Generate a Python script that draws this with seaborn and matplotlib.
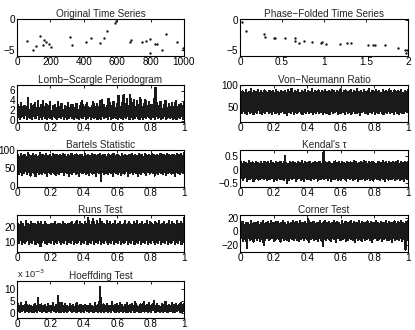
import numpy as np
import matplotlib
matplotlib.use("Agg")
import matplotlib.pyplot as plt
import seaborn as sns

sns.set_theme(style="white")
plt.rcParams['font.family'] = ['Liberation Sans', 'DejaVu Sans']

# ---------------- data ----------------
orig_t = [60, 93, 115, 139, 153, 161, 173, 193, 203, 320, 330, 413, 443, 499, 519, 539,
          588, 594, 676, 682, 751, 775, 795, 799, 829, 837, 869, 891, 956, 994, 998]
orig_y = [-3.47, -5.0, -4.26, -2.68, -4.2, -3.42, -3.68, -3.95, -4.47, -2.9, -4.2, -3.74,
          -3.0, -3.84, -2.95, -1.9, -0.53, -0.3, -3.63, -3.42, -3.74, -3.53, -3.16, -5.47,
          -3.95, -4.05, -5.0, -2.37, -3.68, -4.63, -5.0]

phase = [0.02, 0.07, 0.28, 0.30, 0.40, 0.42, 0.53, 0.65, 0.65, 0.70, 0.76, 0.86, 0.96, 0.98,
         1.02, 1.19, 1.27, 1.32, 1.52, 1.58, 1.61, 1.73, 1.88, 1.96, 1.99, 1.98]
phase_y = [-0.27, -1.8, -2.34, -2.8, -3.0, -2.9, -2.9, -3.0, -3.5, -3.8, -3.5, -3.6, -3.75,
           -3.6, -4.0, -4.0, -3.8, -3.8, -4.2, -4.1, -4.2, -4.2, -4.6, -5.0, -5.0, -5.4]

lomb = [0.3, 3.1, 0.6, 2.8, 0.2, 3.6, 0.9, 2.4, 0.4, 3.0, 1.1, 2.7, 0.3, 4.6, 0.7, 2.2, 0.5, 3.3, 0.2, 2.9,
        0.8, 3.5, 0.4, 2.6, 1.0, 3.9, 0.3, 2.5, 0.6, 3.2, 0.2, 4.0, 0.9, 2.8, 0.5, 3.4, 0.3, 2.3, 0.7, 3.7,
        0.4, 1.9, 0.2, 2.9, 1.0, 3.1, 0.5, 2.6, 0.3, 3.8, 0.6, 2.7, 0.4, 3.3, 0.8, 2.1, 0.2, 3.0, 0.7, 2.8,
        0.3, 3.6, 0.5, 2.4, 0.9, 3.2, 0.4, 3.1, 0.2, 2.5, 0.7, 3.4, 0.5, 2.2, 0.3, 2.9, 0.6, 3.9, 0.4, 3.2,
        0.8, 2.6, 0.2, 3.5, 0.5, 2.8, 0.9, 2.2, 0.3, 3.0, 0.6, 3.7, 0.4, 2.5, 0.7, 3.3, 0.2, 2.7, 0.5, 3.9,
        0.3, 4.1, 0.8, 3.2, 0.4, 2.6, 0.6, 3.0, 0.3, 4.3, 0.9, 3.6, 0.2, 2.9, 0.5, 3.8, 0.7, 2.6, 0.4, 3.4,
        0.3, 5.0, 0.6, 2.8, 0.5, 3.5, 0.2, 5.1, 0.7, 3.3, 0.4, 4.4, 0.8, 2.9, 0.3, 5.2, 0.6, 3.6, 0.2, 4.1,
        0.5, 2.7, 0.9, 3.9, 0.4, 3.1, 0.2, 4.5, 0.7, 2.8, 0.3, 3.4, 0.6, 4.2, 0.4, 2.5, 0.8, 3.7, 0.5, 3.2,
        0.3, 3.0, 0.6, 4.3, 0.2, 6.6, 0.9, 3.5, 0.4, 2.9, 0.7, 3.8, 0.3, 2.4, 0.5, 3.2, 0.8, 4.0, 0.2, 2.6,
        0.6, 3.3, 0.4, 2.8, 0.7, 3.6, 0.3, 2.5, 0.5, 3.9, 0.2, 2.7, 0.6, 3.1, 0.4, 3.4, 0.8, 2.9, 0.3, 3.6]

von_neumann = [40, 84, 36, 86, 42, 81, 38, 88, 35, 83, 41, 85, 37, 90, 39, 82, 34, 87, 40, 84,
               36, 89, 43, 83, 38, 86, 35, 81, 40, 88, 37, 85, 41, 83, 36, 87, 39, 84, 34, 86,
               42, 82, 37, 89, 40, 85, 35, 83, 39, 87, 41, 84, 36, 86, 38, 81, 33, 88, 40, 85,
               37, 91, 42, 83, 35, 86, 39, 84, 36, 88, 41, 82, 38, 87, 34, 85, 40, 89, 37, 83,
               42, 86, 36, 84, 39, 90, 35, 82, 40, 87, 38, 85, 41, 88, 36, 83, 39, 86, 34, 84,
               40, 89, 37, 85, 38, 87, 35, 84, 41, 88, 36, 86, 39, 83, 42, 87, 35, 85, 38, 90,
               36, 82, 40, 86, 34, 88, 41, 84, 37, 85, 39, 89, 35, 83, 42, 86, 38, 84, 36, 91,
               40, 85, 33, 87, 39, 83, 41, 88, 36, 84, 38, 86, 35, 90, 40, 82, 37, 87, 42, 85,
               34, 89, 39, 84, 36, 86, 41, 83, 38, 88, 35, 85, 40, 87, 37, 84, 42, 90, 36, 86,
               39, 83, 35, 88, 41, 85, 37, 86, 34, 84, 40, 89, 38, 82, 36, 87, 42, 85, 39, 88]

bartels = [38, 86, 34, 82, 40, 88, 31, 84, 37, 87, 42, 81, 35, 92, 39, 85, 30, 83, 41, 88,
           36, 84, 28, 86, 40, 82, 35, 93, 38, 85, 33, 87, 41, 83, 36, 89, 30, 84, 39, 86,
           34, 82, 40, 88, 37, 85, 31, 87, 38, 84, 35, 86, 40, 83, 39, 88, 32, 85, 40, 81,
           36, 87, 29, 84, 38, 90, 35, 83, 41, 86, 33, 88, 37, 84, 30, 85, 39, 87, 36, 82,
           40, 89, 34, 84, 38, 86, 31, 83, 41, 88, 35, 85, 37, 87, 30, 84, 39, 86, 36, 90,
           14, 83, 40, 87, 35, 85, 38, 82, 33, 88, 41, 84, 36, 86, 29, 89, 39, 83, 37, 87,
           34, 85, 40, 82, 31, 88, 38, 84, 35, 86, 42, 83, 30, 87, 37, 85, 39, 89, 33, 84,
           41, 86, 36, 83, 28, 88, 38, 85, 34, 87, 40, 82, 37, 90, 32, 84, 39, 86, 35, 83,
           41, 88, 36, 85, 30, 84, 38, 87, 34, 83, 40, 89, 37, 85, 33, 86, 39, 84, 31, 88,
           36, 85, 40, 83, 35, 87, 38, 86, 29, 84, 41, 88, 37, 85, 34, 89, 39, 83, 36, 92]

kendall = [-0.35, 0.28, -0.30, 0.22, -0.38, 0.30, -0.28, 0.25, -0.40, 0.20, -0.33, 0.32, -0.36, 0.24, -0.30, 0.27, -0.42, 0.22, -0.34, 0.29,
           -0.31, 0.26, -0.37, 0.23, -0.33, 0.28, -0.32, 0.21, -0.36, 0.30, -0.29, 0.25, -0.39, 0.27, -0.33, 0.23, -0.35, 0.31, -0.30, 0.26,
           -0.41, 0.22, -0.34, 0.28, -0.37, 0.24, -0.31, 0.29, -0.36, 0.27, -0.33, 0.23, -0.39, 0.50, -0.30, 0.25, -0.48, 0.21, -0.38, 0.28,
           -0.32, 0.24, -0.36, 0.30, -0.29, 0.26, -0.40, 0.22, -0.34, 0.29, -0.31, 0.25, -0.37, 0.32, -0.33, 0.23, -0.42, 0.28, -0.30, 0.24,
           -0.36, 0.27, -0.34, 0.30, -0.39, 0.22, -0.32, 0.26, -0.35, 0.29, -0.31, 0.24, -0.40, 0.27, -0.33, 0.30, -0.36, 0.23, -0.30, 0.65,
           -0.35, 0.28, -0.32, 0.24, -0.38, 0.30, -0.29, 0.26, -0.41, 0.22, -0.34, 0.27, -0.36, 0.31, -0.30, 0.25, -0.39, 0.28, -0.33, 0.23,
           -0.37, 0.29, -0.31, 0.26, -0.35, 0.22, -0.40, 0.30, -0.32, 0.25, -0.36, 0.27, -0.29, 0.24, -0.38, 0.31, -0.34, 0.28, -0.30, 0.23,
           -0.42, 0.26, -0.33, 0.29, -0.36, 0.24, -0.31, 0.32, -0.39, 0.27, -0.35, 0.22, -0.30, 0.28, -0.37, 0.25, -0.33, 0.30, -0.40, 0.26,
           -0.32, 0.23, -0.36, 0.29, -0.34, 0.27, -0.38, 0.24, -0.31, 0.31, -0.35, 0.26, -0.41, 0.28, -0.30, 0.22, -0.37, 0.29, -0.33, 0.25,
           -0.36, 0.30, -0.32, 0.24, -0.39, 0.27, -0.34, 0.31, -0.30, 0.23, -0.37, 0.28, -0.35, 0.26, -0.43, 0.29, -0.31, 0.25, -0.36, 0.30]

runs = [10, 22, 9, 21, 11, 23, 8, 22, 10, 20, 9, 24, 11, 22, 8, 21, 10, 23, 9, 22,
        11, 22, 8, 21, 10, 23, 9, 22, 7, 23, 10, 21, 11, 23, 9, 22, 8, 21, 10, 21,
        9, 22, 11, 22, 8, 23, 10, 21, 9, 22, 11, 22, 8, 21, 10, 23, 9, 22, 11, 21,
        8, 22, 10, 22, 9, 23, 11, 21, 8, 22, 10, 24, 9, 21, 11, 23, 8, 22, 10, 21,
        9, 23, 11, 22, 8, 26, 10, 21, 9, 23, 11, 25, 8, 21, 10, 24, 9, 22, 11, 25,
        8, 23, 10, 22, 9, 21, 11, 24, 8, 22, 10, 23, 9, 21, 11, 22, 8, 24, 10, 21,
        9, 22, 11, 23, 8, 21, 10, 22, 9, 24, 11, 21, 8, 23, 10, 22, 9, 21, 11, 23,
        8, 22, 10, 24, 9, 21, 11, 22, 8, 23, 10, 21, 9, 22, 11, 24, 8, 21, 10, 23,
        9, 22, 11, 21, 8, 23, 10, 22, 9, 24, 11, 21, 8, 22, 10, 23, 9, 21, 11, 22,
        8, 24, 10, 21, 9, 23, 11, 22, 8, 21, 10, 24, 9, 22, 11, 23, 8, 22, 10, 26]

corner = [-13, 11, -10, 14, -15, 9, -12, 13, -25, 12, -11, 10, -14, 15, -12, 11, -16, 13, -10, 12,
          -13, 14, -11, 10, -15, 13, -12, 15, -21, 11, -13, 12, -10, 14, -14, 11, -12, 16, -11, 13,
          -15, 12, -13, 14, -10, 14, -12, 11, -16, 13, -11, 15, -14, 12, -12, 10, -13, 14, -15, 11,
          -10, 13, -12, 16, -14, 12, -11, 14, -13, 11, -15, 15, -12, 13, -10, 12, -14, 14, -11, 11,
          -13, 18, -16, 12, -12, 13, -10, 14, -14, 11, -12, 13, -15, 12, -11, 15, -13, 11, -22, 14,
          -12, 16, -14, 12, -11, 14, -13, 11, -15, 13, -10, 15, -12, 12, -16, 14, -11, 13, -13, 10,
          -14, 15, -12, 11, -10, 14, -15, 12, -13, 13, -11, 16, -12, 11, -14, 14, -16, 12, -10, 13,
          -13, 15, -12, 11, -15, 14, -11, 12, -14, 13, -12, 15, -10, 11, -13, 14, -16, 12, -12, 13,
          -11, 15, -14, 12, -13, 11, -10, 14, -15, 13, -12, 12, -11, 15, -14, 11, -13, 14, -12, 12,
          -16, 13, -10, 15, -13, 11, -12, 14, -14, 12, -11, 16, -15, 13, -12, 11, -28, 14, -13, 15]

# Hoeffding statistic, in units of 1e-3 (as shown by the axis multiplier)
hoeffding_e3 = [0.3, 3.5, 0.8, 2.8, 0.2, 4.0, 0.6, 2.5, 1.0, 3.2, 0.4, 4.5, 0.7, 2.7, 0.3, 3.1, 0.9, 3.0, 0.5, 2.6,
                0.2, 3.8, 0.8, 2.9, 0.4, 6.0, 1.0, 3.1, 0.6, 3.5, 0.3, 2.7, 0.9, 3.3, 0.5, 2.4, 0.2, 3.6, 0.7, 3.0,
                0.4, 2.8, 1.0, 3.9, 0.6, 2.6, 0.3, 3.2, 0.8, 7.0, 0.5, 2.9, 0.2, 4.1, 0.9, 2.7, 0.4, 3.5, 0.7, 3.0,
                0.3, 2.5, 1.0, 3.7, 0.6, 2.8, 0.2, 3.3, 0.8, 2.6, 0.5, 4.0, 0.3, 2.9, 0.9, 3.4, 0.4, 3.1, 0.7, 2.7,
                0.2, 3.4, 1.0, 3.0, 0.6, 2.8, 0.3, 3.6, 0.8, 3.0, 0.5, 2.6, 0.2, 4.2, 0.9, 2.9, 0.4, 3.3, 0.7, 11.0,
                0.3, 2.7, 0.6, 3.5, 0.2, 2.9, 0.9, 3.8, 0.4, 3.0, 0.7, 2.5, 0.3, 4.3, 1.0, 2.8, 0.5, 3.2, 0.2, 3.6,
                0.8, 2.7, 0.4, 3.9, 0.6, 3.1, 0.3, 2.6, 0.9, 3.4, 0.5, 4.0, 0.2, 2.8, 0.7, 3.3, 0.4, 3.7, 1.0, 2.9,
                0.3, 4.4, 0.6, 3.0, 0.8, 2.6, 0.2, 3.5, 0.5, 3.2, 0.9, 4.6, 0.4, 2.8, 0.7, 3.1, 0.3, 3.9, 0.6, 2.7,
                0.2, 3.4, 1.0, 5.0, 0.5, 2.9, 0.3, 3.6, 0.8, 3.0, 0.4, 2.6, 0.7, 3.8, 0.2, 3.2, 0.9, 4.5, 0.5, 2.8,
                0.3, 3.3, 0.6, 2.7, 0.8, 4.1, 0.4, 3.0, 0.2, 3.6, 0.7, 2.9, 1.0, 3.4, 0.5, 4.2, 0.3, 3.1, 0.6, 3.8]

titles = ["Original Time Series", "Phase\u2212Folded Time Series", "Lomb\u2212Scargle Periodogram",
          "Von\u2212Neumann Ratio", "Bartels Statistic", "Kendal's \u03c4", "Runs Test",
          "Corner Test", "Hoeffding Test"]

# ---------------- figure ----------------
W, H = 415, 330
fig = plt.figure(figsize=(W / 100, H / 100), dpi=100)

lefts = [17, 240]
widths = [167, 168]
tops = [19, 85, 150, 215, 281]
ax_h = 36.5
FS = 7.2


def make_ax(row, col):
    l = lefts[col] / W
    w = widths[col] / W
    b = 1 - (tops[row] + ax_h) / H
    ax = fig.add_axes([l, b, w, ax_h / H])
    ax.tick_params(direction='in', top=True, right=True, length=2, width=0.6,
                   labelsize=FS, pad=1.2, colors='black')
    for s in ax.spines.values():
        s.set_linewidth(0.8)
        s.set_color('black')
    return ax


def style(ax, title):
    ax.set_title(title, fontsize=FS, pad=1.5)
    ax.set_xlabel('')
    ax.set_ylabel('')


# Original
ax = make_ax(0, 0)
sns.scatterplot(x=orig_t, y=orig_y, ax=ax, color='k', s=3, marker='o', linewidth=0)
ax.set_xlim(0, 1000); ax.set_ylim(-5.85, 0.05)
ax.set_xticks([0, 200, 400, 600, 800, 1000]); ax.set_yticks([-5, 0])
ax.set_yticklabels(['\u22125', '0'])
style(ax, titles[0])

# Phase folded
ax = make_ax(0, 1)
sns.scatterplot(x=phase, y=phase_y, ax=ax, color='k', s=3, marker='o', linewidth=0)
ax.set_xlim(0, 2); ax.set_ylim(-5.85, 0.15)
ax.set_xticks([0, 0.5, 1, 1.5, 2]); ax.set_xticklabels(['0', '0.5', '1', '1.5', '2'])
ax.set_yticks([-5, 0]); ax.set_yticklabels(['\u22125', '0'])
style(ax, titles[1])

series = [(lomb, (1, 0), (-0.2, 7.1), [0, 2, 4, 6], ['0', '2', '4', '6']),
          (von_neumann, (1, 1), (18, 100), [50, 100], ['50', '100']),
          (bartels, (2, 0), (0, 100), [0, 50, 100], ['0', '50', '100']),
          (kendall, (2, 1), (-0.62, 0.73), [-0.5, 0, 0.5], ['\u22120.5', '0', '0.5']),
          (runs, (3, 0), (3.3, 27.8), [10, 20], ['10', '20']),
          (corner, (3, 1), (-30.5, 24.3), [-20, 0, 20], ['\u221220', '0', '20']),
          (hoeffding_e3, (4, 0), (-2.0, 13.3), [0, 5, 10], ['0', '5', '10'])]

xt = [0, 0.2, 0.4, 0.6, 0.8, 1]
xtl = ['0', '0.2', '0.4', '0.6', '0.8', '1']
for i, (vals, (r, c), yl, yt, ytl) in enumerate(series):
    ax = make_ax(r, c)
    xs = np.linspace(0, 1, len(vals))
    sns.lineplot(x=xs, y=vals, ax=ax, color='k', linewidth=0.8, estimator=None, sort=False,
                 antialiased=False)
    ax.set_xlim(0, 1); ax.set_ylim(*yl)
    ax.set_xticks(xt); ax.set_xticklabels(xtl)
    ax.set_yticks(yt); ax.set_yticklabels(ytl)
    style(ax, titles[i + 2])
    if vals is hoeffding_e3:
        ax.text(0.0, 1.04, 'x 10$^{-3}$', transform=ax.transAxes, fontsize=FS - 0.6,
                ha='left', va='bottom')

fig.savefig('out.png', dpi=100, facecolor='white')
